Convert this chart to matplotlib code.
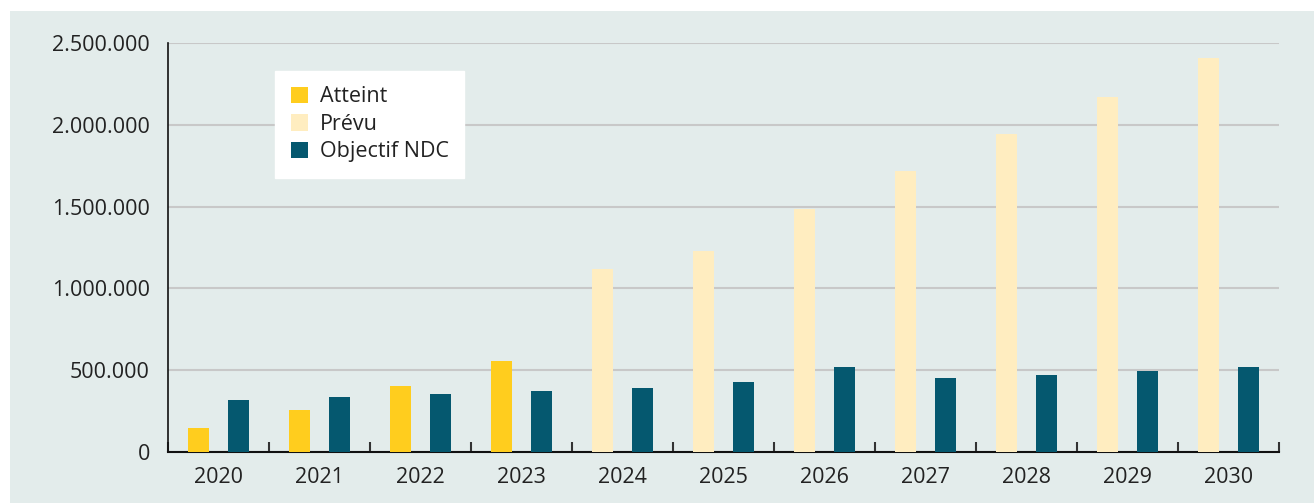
import matplotlib.pyplot as plt
import numpy as np
from matplotlib.patches import Rectangle, Patch
from matplotlib.ticker import FuncFormatter, FixedLocator

years = ['2020', '2021', '2022', '2023', '2024', '2025', '2026', '2027', '2028', '2029', '2030']
atteint = [147000, 257000, 403000, 556000, 0, 0, 0, 0, 0, 0, 0]
prevu = [0, 0, 0, 0, 1118000, 1228000, 1485000, 1717000, 1944000, 2168000, 2408000]
objectif = [318000, 336000, 354000, 373000, 391000, 428000, 519000, 452000, 471000, 495000, 519000]

c_att = '#FFCD1E'
c_prev = '#FFEDC0'
c_obj = '#05586F'
c_bg = '#E3ECEB'

plt.rcParams['font.family'] = ['Open Sans', 'DejaVu Sans']
fs = 15.5

fig = plt.figure(figsize=(13.14, 5.03), dpi=100)
fig.patches.append(Rectangle((10 / 1314, 0), 1, 1 - 11 / 503, transform=fig.transFigure,
                             facecolor=c_bg, edgecolor='none', zorder=-10))

ax = fig.add_axes([168 / 1314, 1 - 452 / 503, (1279 - 168) / 1314, (452 - 43) / 503])
ax.set_facecolor('none')

x = np.arange(len(years))
w = 0.21
off = 0.2
ax.bar(x - off, atteint, w, color=c_att, zorder=3)
ax.bar(x - off, prevu, w, color=c_prev, zorder=3)
ax.bar(x + off, objectif, w, color=c_obj, zorder=3)

ax.set_xlim(-0.5, len(years) - 0.5)
ax.set_ylim(0, 2500000)
ax.set_yticks(np.arange(0, 2500001, 500000))
ax.yaxis.set_major_formatter(FuncFormatter(lambda v, p: f'{int(v):,}'.replace(',', '.')))
ax.grid(axis='y', color='#C8C8C8', linewidth=1.5, zorder=0)
ax.tick_params(axis='y', length=0, pad=13, labelsize=fs, labelcolor='#222222')

ax.set_xticks(x)
ax.set_xticklabels(years)
ax.tick_params(axis='x', which='major', length=0, pad=11, labelsize=fs, labelcolor='#222222')
ax.xaxis.set_minor_locator(FixedLocator(np.arange(-0.5, len(years), 1.0)))
ax.tick_params(axis='x', which='minor', direction='in', length=7, width=1.5, color='#333333')

for s in ['top', 'right']:
    ax.spines[s].set_visible(False)
ax.spines['left'].set_color('#111111')
ax.spines['bottom'].set_color('#111111')
ax.spines['left'].set_linewidth(1.2)
ax.spines['bottom'].set_linewidth(1.5)

handles = [Patch(facecolor=c_att, label='Atteint'),
           Patch(facecolor=c_prev, label='Prévu'),
           Patch(facecolor=c_obj, label='Objectif NDC')]
leg = fig.legend(handles=handles, loc='upper left', bbox_to_anchor=(275 / 1314, 1 - 71 / 503),
                 frameon=True, fancybox=False, fontsize=fs, handlelength=0.8, handleheight=0.8,
                 handletextpad=0.55, borderpad=0.72, labelspacing=0.3, borderaxespad=0)
leg.get_frame().set_facecolor('white')
leg.get_frame().set_edgecolor('white')
leg.get_frame().set_alpha(1)
for t in leg.get_texts():
    t.set_color('#222222')

fig.savefig('out.png', dpi=100)
